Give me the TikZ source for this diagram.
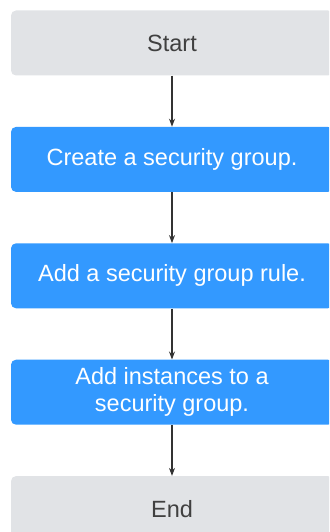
\documentclass[tikz,border=0pt]{standalone}
\usepackage{fontspec}
\setmainfont{Liberation Sans}
\usepackage{tikz}
\usetikzlibrary{arrows.meta,positioning}
\definecolor{sgbleu}{RGB}{51,153,255}
\definecolor{sggris}{RGB}{225,227,230}
\definecolor{sgtexte}{RGB}{64,64,64}
\definecolor{sgfleche}{RGB}{51,51,51}

\begin{document}
\begin{tikzpicture}[x=1pt, y=1pt,
    etape/.style={rectangle, rounded corners=5pt, minimum width=322pt,
                  minimum height=65pt, inner sep=0pt, align=center,
                  font=\fontsize{23.5}{27}\selectfont},
    borne/.style={etape, fill=sggris, text=sgtexte},
    action/.style={etape, fill=sgbleu, text=white},
    fleche/.style={sgfleche, line width=1.2pt, -{Stealth[length=8pt,width=6pt]}}]
  % Frame
  \useasboundingbox (0,0) rectangle (329,-532);
  \clip (0,0) rectangle (329,-532);

  % Steps
  \node[borne] (debut) at (172,-43) {Start};
  \node[action, below=51pt of debut] (creer) {Create a security group.};
  \node[action, below=51pt of creer] (regle) {Add a security group rule.};
  \node[action, below=51pt of regle] (instances) {Add instances to a\\security group.};
  \node[borne, below=51pt of instances] (fin) {End};

  % Arrows
  \draw[fleche] (debut) -- (creer);
  \draw[fleche] (creer) -- (regle);
  \draw[fleche] (regle) -- (instances);
  \draw[fleche] (instances) -- (fin);
\end{tikzpicture}
\end{document}
